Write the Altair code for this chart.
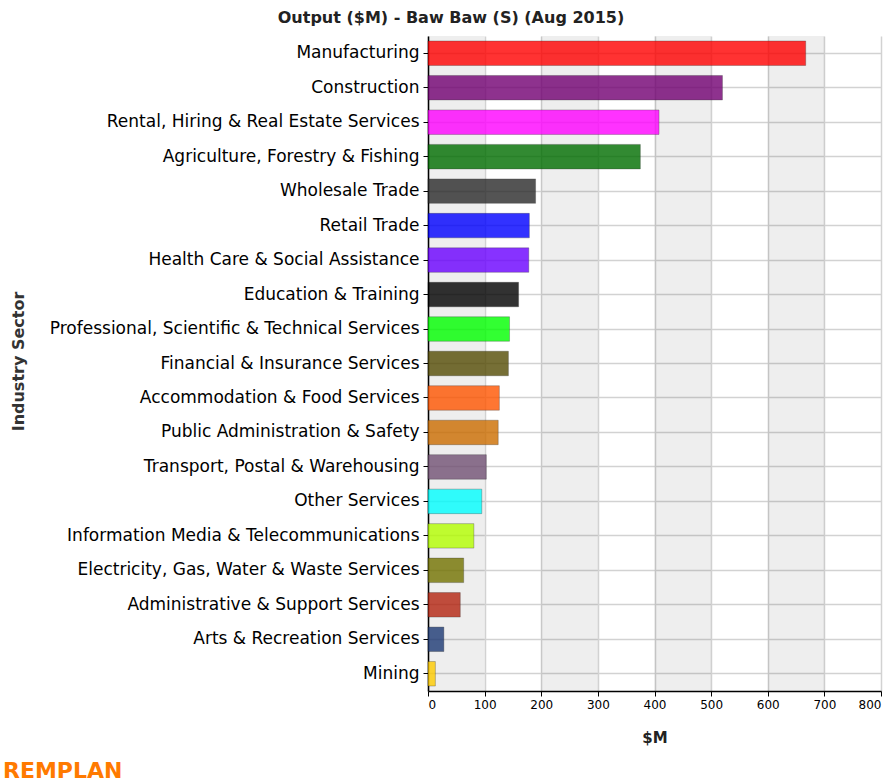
import altair as alt
import pandas as pd

# ---------------- data ----------------
sectors = [
    "Manufacturing",
    "Construction",
    "Rental, Hiring & Real Estate Services",
    "Agriculture, Forestry & Fishing",
    "Wholesale Trade",
    "Retail Trade",
    "Health Care & Social Assistance",
    "Education & Training",
    "Professional, Scientific & Technical Services",
    "Financial & Insurance Services",
    "Accommodation & Food Services",
    "Public Administration & Safety",
    "Transport, Postal & Warehousing",
    "Other Services",
    "Information Media & Telecommunications",
    "Electricity, Gas, Water & Waste Services",
    "Administrative & Support Services",
    "Arts & Recreation Services",
    "Mining",
]
output_m = [667, 520, 408, 375, 190, 179, 178, 160, 144, 142, 126, 124,
            103, 95, 81, 63, 57, 28, 13]
bar_colors = [
    "#FF0000", "#720072", "#FF00FF", "#006E00", "#2A2A2A", "#0000FF",
    "#6A00FF", "#000000", "#00FF00", "#554C05", "#FF5500", "#CC6D00",
    "#725174", "#00FFFF", "#B4FF00", "#737300", "#B42410", "#1D3974",
    "#FFCC00",
]
x_ticks = [0, 100, 200, 300, 400, 500, 600, 700, 800]
band_starts = [0, 200, 400, 600]
title_text = "Output ($M) - Baw Baw (S) (Aug 2015)"
logo_text = "REMPLAN"

# ---------------- layout ----------------
W, H = 453, 655
LEFT, TOP = 428, 36
FONT = "DejaVu Sans"

bars_df = pd.DataFrame({"sector": sectors, "value": output_m})
bands_df = pd.DataFrame({"start": band_starts,
                         "end": [s + 100 for s in band_starts]})

xscale = alt.Scale(domain=[0, 800], nice=False, zero=True)
yscale = alt.Scale(domain=sectors, paddingInner=0.29, paddingOuter=0.145)

x_axis = alt.Axis(
    values=x_ticks, grid=True, gridColor="#d2d2d2", gridWidth=1.5,
    domainColor="#000000", domainWidth=1.5, tickColor="#000000",
    tickSize=5, labelFont=FONT, labelFontSize=12, labelColor="#000000",
    labelPadding=3, title="$M", titleFont=FONT, titleFontSize=15,
    titleFontWeight="bold", titleColor="#222222", titleBaseline="middle",
    titleY=46,
)
y_axis = alt.Axis(
    grid=True, gridColor="#d2d2d2", gridWidth=1.5, bandPosition=0.5,
    domainColor="#000000", domainWidth=1.5, tickColor="#000000",
    tickSize=5, labelFont=FONT, labelFontSize=17, labelColor="#000000",
    labelPadding=4, labelLimit=500,
    title="Industry Sector", titleFont=FONT, titleFontSize=16,
    titleFontWeight="bold", titleColor="#333333", titleAngle=270,
    titleAlign="center", titleBaseline="middle",
    titleX=18 - LEFT, titleY=361 - TOP,
)

stripes = alt.Chart(bands_df).mark_rect(color="#000000", opacity=0.065).encode(
    x=alt.X("start:Q", scale=xscale, axis=x_axis),
    x2="end:Q",
    y=alt.value(0),
    y2=alt.value(H),
)

bars = alt.Chart(bars_df).mark_bar(
    opacity=0.8, stroke="#000000", strokeOpacity=0.3, strokeWidth=1
).encode(
    x=alt.X("value:Q", scale=xscale, axis=x_axis),
    y=alt.Y("sector:N", scale=yscale, sort=sectors, axis=y_axis),
    color=alt.Color("sector:N", scale=alt.Scale(domain=sectors, range=bar_colors),
                    legend=None),
)

title = alt.Chart(pd.DataFrame({"t": [title_text]})).mark_text(
    font=FONT, fontSize=16, fontWeight="bold", color="#222222",
    align="center", baseline="middle",
).encode(text="t:N", x=alt.value(451 - LEFT), y=alt.value(18 - TOP))

logo = alt.Chart(pd.DataFrame({"t": [logo_text]})).mark_text(
    font=FONT, fontSize=22, fontWeight="bold", color="#FF7A00",
    align="left", baseline="alphabetic",
).encode(text="t:N", x=alt.value(3 - LEFT), y=alt.value(778 - TOP))

chart = alt.layer(stripes, bars, title, logo).properties(
    width=W, height=H,
    autosize=alt.AutoSizeParams(type="none"),
    padding={"left": LEFT, "top": TOP, "right": 892 - LEFT - W,
             "bottom": 782 - TOP - H},
).configure_view(stroke=None)

chart.save("out.html", embed_options={"renderer": "svg", "actions": False})
